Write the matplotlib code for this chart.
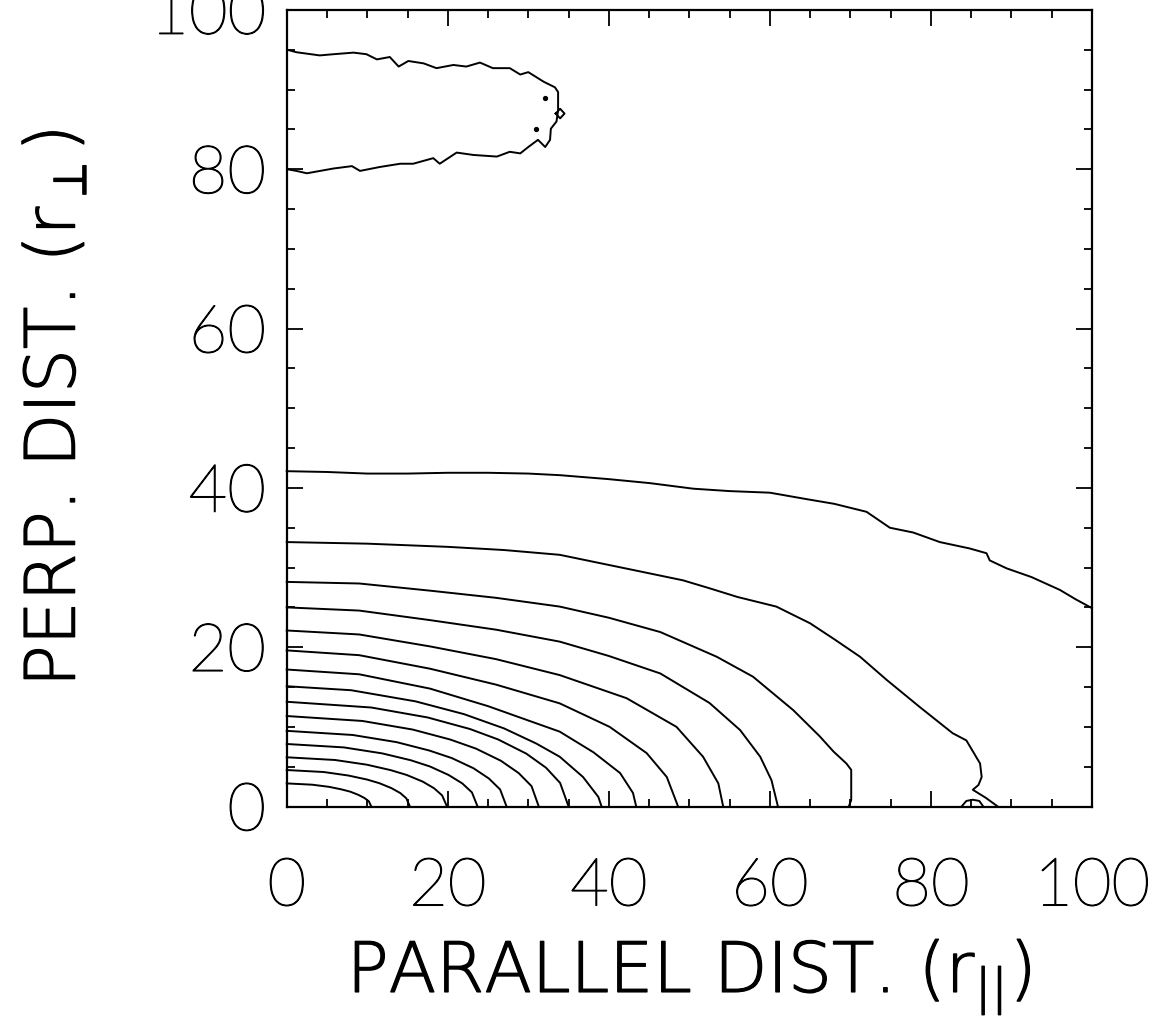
import matplotlib.pyplot as plt
import matplotlib.patheffects as pe

# --------------------------------------------------------------------------------------------------------
# Contour lines, as (x, y) points, innermost first.
# --------------------------------------------------------------------------------------------------------
c01_x = [0, 3.15, 5.25, 6.8, 7.9, 8.9, 9.65, 10.2, 10.5]
c01_y = [2.9, 2.74, 2.47, 2.15, 1.86, 1.46, 1.07, 0.65, 0]
c02_x = [0, 4.6, 7.65, 9.95, 11.5, 13.0, 14.1, 14.85, 15.3]
c02_y = [4.58, 4.33, 3.89, 3.39, 2.93, 2.31, 1.69, 1.03, 0]
c03_x = [0, 6.0, 9.95, 12.9, 14.9, 16.9, 18.3, 19.3, 19.9]
c03_y = [6.18, 5.84, 5.25, 4.57, 3.96, 3.12, 2.29, 1.39, 0]
c04_x = [0, 7.1, 11.85, 15.4, 17.8, 20.1, 21.8, 23.0, 23.7]
c04_y = [7.85, 7.42, 6.67, 5.81, 5.02, 3.96, 2.9, 1.77, 0]
c05_x = [0, 8.2, 13.65, 17.7, 20.5, 23.2, 25.1, 26.5, 27.3]
c05_y = [9.5, 8.98, 8.08, 7.03, 6.08, 4.80, 3.52, 2.14, 0]
c06_x = [0, 9.4, 15.65, 20.3, 23.5, 26.6, 28.8, 30.4, 31.3]
c06_y = [11.36, 10.74, 9.66, 8.41, 7.27, 5.74, 4.20, 2.56, 0]
c07_x = [0, 10.5, 17.5, 22.75, 26.25, 29.75, 32.2, 33.95, 35.0]
c07_y = [13.15, 12.43, 11.18, 9.73, 8.42, 6.64, 4.87, 2.96, 0]
c08_x = [0, 8, 16, 22, 27, 31, 33.9, 36.8, 38.7, 39.1]
c08_y = [15.1, 14.6, 13.2, 11.6, 9.8, 7.9, 6.25, 3.7, 1.2, 0]
c09_x = [0, 9, 17.8, 25, 30, 33.9, 38.1, 41.4, 43.0, 43.4]
c09_y = [17.2, 16.6, 14.8, 12.6, 10.8, 9.4, 6.8, 4.2, 1.7, 0]
c10_x = [0, 9, 17.8, 26, 33.9, 40.1, 44.7, 47.2, 48.6]
c10_y = [19.6, 19.0, 17.3, 15.3, 12.95, 10.0, 6.7, 3.7, 0]
c11_x = [0, 9, 17.8, 26, 33.9, 42.2, 48.4, 51.7, 53.6, 54.2]
c11_y = [22.1, 21.6, 20.1, 18.5, 16.5, 13.6, 10.0, 6.25, 2.9, 0]
c12_x = [0, 9, 17.8, 26, 33.9, 40, 46.4, 52.5, 56.3, 58.8, 60.2, 61.0]
c12_y = [25.0, 24.6, 23.4, 22.2, 20.7, 18.9, 16.7, 13.0, 9.6, 6.25, 3.3, 0]
c13_x = [0, 9, 17.8, 26, 33.9, 40, 46.4, 53.4, 57.9, 62.9, 66.2, 67.9, 69.5, 70.1, 70.1, 69.8]
c13_y = [28.2, 28.0, 27.1, 26.2, 25.1, 23.7, 21.9, 18.8, 16.3, 12.1, 8.8, 6.9, 5.4, 4.6, 0.8, 0]
c14_x = [0, 10, 20, 27, 33.9, 43, 49.2, 52.5, 56, 60.8, 65, 68, 71.2, 74.5, 78.6, 82.7, 84.4,
         86.1, 86.3, 85.9, 85.2, 86.8, 88.3]
c14_y = [33.2, 33.0, 32.6, 32.2, 31.6, 29.7, 28.4, 27.4, 26.3, 25.1, 23.0, 21.0, 18.8, 15.9, 12.5,
         9.2, 8.3, 5.4, 3.7, 2.7, 2.1, 1.1, 0]
c15_x = [0, 5, 10, 15, 20, 25, 30, 33.9, 40, 45.1, 50.5, 55, 60, 64.5, 68, 72, 74.9, 77.8, 81.1,
         84.8, 86.9, 87.3, 89.4, 92.5, 96, 98, 100]
c15_y = [42.1, 42.0, 41.8, 41.8, 41.9, 41.9, 41.8, 41.6, 41.1, 40.6, 39.9, 39.6, 39.4, 38.6, 38.0,
         37.0, 35.0, 34.4, 33.2, 32.4, 31.8, 30.9, 29.9, 28.8, 27.2, 26.0, 24.9]

# small closed bump sitting on the x axis near 85
bump_x = [83.8, 84.4, 85.2, 86.0, 86.5]
bump_y = [0, 0.7, 0.85, 0.7, 0]

# the tongue at the top left
top_x = [0.1, 1.2, 4.1, 5.8, 8.3, 9.9, 11.2, 12.8, 13.9, 15.1, 17.0, 18.6, 20.7, 22.3, 24.0, 25.6,
         27.7, 29.0, 30.0, 31.9, 33.3, 33.7, 33.7, 33.5, 32.8, 32.7, 32.1, 31.2, 30.0, 29.0, 27.7,
         26.1, 23.2, 21.1, 19.0, 18.2, 15.7, 14.1, 11.6, 9.1, 8.1, 5.8, 2.5, 1.2, 0.1]
top_y = [95.0, 94.7, 94.3, 94.45, 94.65, 94.45, 93.8, 94.1, 92.9, 93.6, 93.3, 92.7, 93.1, 92.9,
         93.4, 92.7, 92.7, 91.9, 92.2, 91.0, 90.3, 89.7, 87.4, 86.0, 85.1, 83.7, 82.8, 83.7, 82.8,
         82.0, 82.2, 81.6, 81.8, 82.1, 80.7, 81.4, 80.7, 80.7, 80.3, 79.8, 80.4, 80.1, 79.5, 79.8,
         80.0]
diamond_x = [33.4, 33.95, 34.5, 33.95, 33.4]
diamond_y = [87.0, 87.6, 87.0, 86.4, 87.0]
dots_x = [32.1, 31.0]
dots_y = [89.0, 85.0]

major_ticks = [0, 20, 40, 60, 80, 100]
minor_ticks = [5, 10, 15, 25, 30, 35, 45, 50, 55, 65, 70, 75, 85, 90, 95]

contours = [(c01_x, c01_y), (c02_x, c02_y), (c03_x, c03_y), (c04_x, c04_y), (c05_x, c05_y),
            (c06_x, c06_y), (c07_x, c07_y), (c08_x, c08_y), (c09_x, c09_y), (c10_x, c10_y),
            (c11_x, c11_y), (c12_x, c12_y), (c13_x, c13_y), (c14_x, c14_y), (c15_x, c15_y),
            (bump_x, bump_y), (top_x, top_y), (diamond_x, diamond_y)]

plt.rcParams['font.family'] = ['Lato', 'DejaVu Sans']
plt.rcParams['font.weight'] = 'light'
plt.rcParams['axes.labelweight'] = 'light'

# thin font, thickened a little so it reads black like the original
thick = [pe.withStroke(linewidth=0.9, foreground='black')]

fig = plt.figure(figsize=(11.58, 10.32), dpi=100)
ax = fig.add_axes([0.2476, 0.2185, 0.6954, 0.7718])

for cx, cy in contours:
    ax.plot(cx, cy, color='black', lw=1.4, clip_on=False)
ax.plot(dots_x, dots_y, 'o', color='black', ms=2.8)

ax.set_xlim(0, 100)
ax.set_ylim(0, 100)
ax.set_xticks(major_ticks)
ax.set_yticks(major_ticks)
ax.set_xticks(minor_ticks, minor=True)
ax.set_yticks(minor_ticks, minor=True)
ax.tick_params(which='both', direction='in', top=True, right=True, width=1.3, labelsize=48)
ax.tick_params(axis='x', which='major', pad=37)
ax.tick_params(axis='y', which='major', pad=15)
ax.tick_params(which='major', length=11.5)
ax.tick_params(which='minor', length=5.8)
for side in ax.spines.values():
    side.set_linewidth(1.6)

# axis titles are set wider than the tick numbers
ax.set_xlabel(r'PARALLEL DIST. (r$_{||}$)', fontsize=50, labelpad=14,
              family=['DejaVu Sans'])
ax.set_ylabel(r'PERP. DIST. (r$_{\perp}$)', fontsize=50, labelpad=44,
              family=['DejaVu Sans'])

for t in ax.get_xticklabels() + ax.get_yticklabels() + [ax.xaxis.label, ax.yaxis.label]:
    t.set_color('black')
    t.set_path_effects(thick)

plt.savefig('out.png', dpi=100)
